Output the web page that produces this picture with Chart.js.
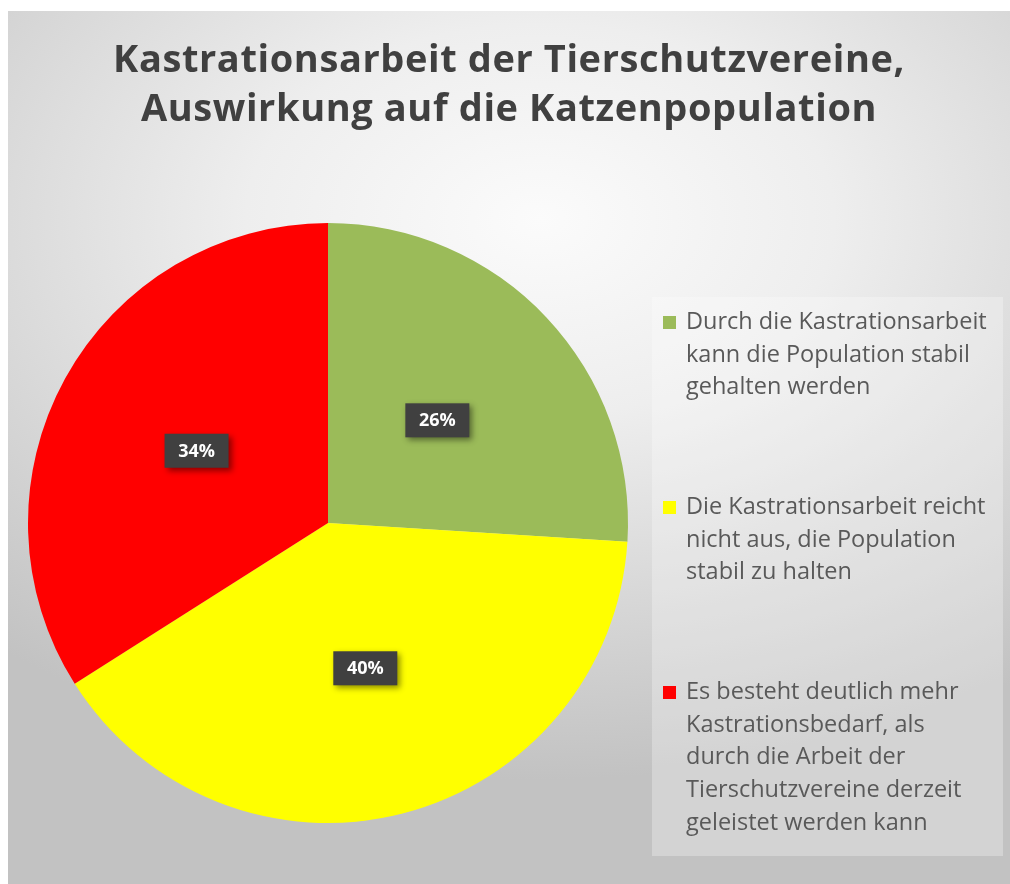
<!DOCTYPE html>
<html>
<head>
<meta charset="utf-8">
<script src="https://cdn.jsdelivr.net/npm/chart.js@4"></script>
<style>
  html,body{margin:0;padding:0;background:#fff;}
  #wrap{position:relative;width:1010px;height:884px;}
  #chart{position:absolute;left:0;top:0;}
  #title{position:absolute;left:8px;right:0;top:33px;text-align:center;
    font-family:"Open Sans",sans-serif;font-weight:700;font-size:38px;line-height:49px;
    color:#404040;letter-spacing:0.6px;}
  #legend{position:absolute;left:652px;top:297px;width:351px;height:559px;
    background:rgba(255,255,255,0.28);
    font-family:"Open Sans",sans-serif;font-size:23.5px;line-height:32.7px;color:#595959;}
  .item{position:absolute;left:11px;padding-left:23px;white-space:nowrap;}
  .sw{position:absolute;left:0;top:12px;width:13px;height:13px;}
</style>
</head>
<body>
<div id="wrap">
  <canvas id="chart" width="1010" height="884"></canvas>
  <div id="title">Kastrationsarbeit der Tierschutzvereine,<br>Auswirkung auf die Katzenpopulation</div>
  <div id="legend"></div>
</div>
<script>
const categories = [
  "Durch die Kastrationsarbeit kann die Population stabil gehalten werden",
  "Die Kastrationsarbeit reicht nicht aus, die Population stabil zu halten",
  "Es besteht deutlich mehr Kastrationsbedarf, als durch die Arbeit der Tierschutzvereine derzeit geleistet werden kann"
];
const legendLines = [
  ["Durch die Kastrationsarbeit","kann die Population stabil","gehalten werden"],
  ["Die Kastrationsarbeit reicht","nicht aus, die Population","stabil zu halten"],
  ["Es besteht deutlich mehr","Kastrationsbedarf, als","durch die Arbeit der","Tierschutzvereine derzeit","geleistet werden kann"]
];
const shares = [26, 40, 34];
const colors = ["#9BBB59", "#FFFF00", "#FF0000"];
const legendTops = [7, 192, 377];

// legend
const lg = document.getElementById("legend");
legendLines.forEach((lines,i)=>{
  const d = document.createElement("div");
  d.className = "item";
  d.style.top = legendTops[i] + "px";
  d.innerHTML = '<span class="sw" style="background:'+colors[i]+'"></span>' + lines.join("<br>");
  lg.appendChild(d);
});

// background
const bgPlugin = {
  id:"bg",
  beforeDraw(c){
    const g = c.ctx;
    g.save();
    g.fillStyle = "#fff";
    g.fillRect(0,0,c.width,c.height);
    g.translate(540,220);
    g.scale(1.5,1);
    const grad = g.createRadialGradient(0,0,0,0,0,560);
    grad.addColorStop(0,"#fbfbfb");
    grad.addColorStop(0.35,"#eeeeee");
    grad.addColorStop(1,"#c2c2c2");
    g.fillStyle = grad;
    g.fillRect((8-540)/1.5, 11-220, (1010)/1.5, 884);
    g.restore();
  }
};

// data labels
const labelPlugin = {
  id:"boxLabels",
  afterDatasetsDraw(c){
    const g = c.ctx;
    const meta = c.getDatasetMeta(0);
    g.save();
    g.font = "bold 18px 'Open Sans', sans-serif";
    g.textAlign = "center";
    g.textBaseline = "middle";
    meta.data.forEach((arc,i)=>{
      const p = arc.tooltipPosition();
      const txt = shares[i] + "%";
      const w = 64, h = 34;
      g.shadowColor = "rgba(0,0,0,0.45)";
      g.shadowBlur = 6;
      g.shadowOffsetX = 3;
      g.shadowOffsetY = 3;
      g.fillStyle = "#404040";
      g.fillRect(p.x - w/2, p.y - h/2, w, h);
      g.shadowColor = "transparent";
      g.fillStyle = "#ffffff";
      g.fillText(txt, p.x, p.y + 1);
    });
    g.restore();
  }
};

new Chart(document.getElementById("chart"),{
  type:"pie",
  data:{
    labels:categories,
    datasets:[{
      data:shares,
      backgroundColor:colors,
      borderWidth:0
    }]
  },
  options:{
    responsive:false,
    animation:false,
    layout:{padding:{left:28,right:382,top:223,bottom:61}},
    plugins:{
      legend:{display:false},
      title:{display:false},
      tooltip:{enabled:false}
    }
  },
  plugins:[bgPlugin,labelPlugin]
});
</script>
</body>
</html>
